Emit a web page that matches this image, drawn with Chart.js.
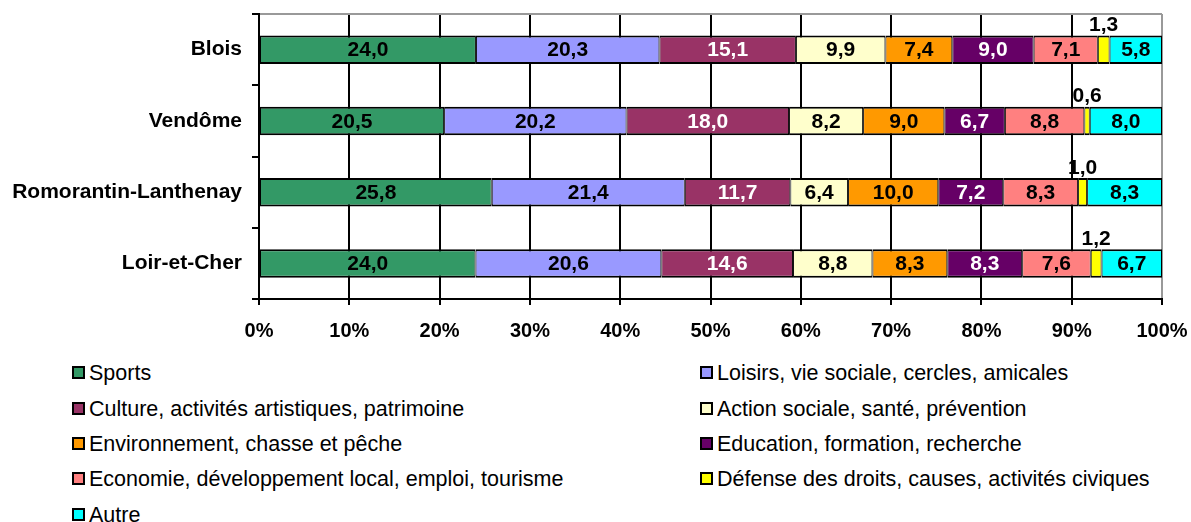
<!DOCTYPE html>
<html><head><meta charset="utf-8">
<script src="https://cdn.jsdelivr.net/npm/chart.js@4.4.0/dist/chart.umd.min.js"></script>
<style>
html,body{margin:0;padding:0;background:#fff;}
#wrap{position:relative;width:1191px;height:522px;overflow:hidden;background:#fff;}
#c{position:absolute;left:0;top:0;}
.lg{position:absolute;font-family:"Liberation Sans",Arial,sans-serif;font-size:21.5px;color:#000;white-space:nowrap;line-height:24px;height:24px;}
.lg i{position:absolute;left:0;top:5px;width:9px;height:9px;border:2px solid #000;}
.lg span{position:absolute;left:17px;top:0;}
</style></head>
<body>
<div id="wrap"><canvas id="c" width="1191" height="350"></canvas><div id="legend"></div></div>
<script>
// ---- data ----
const categories = ["Blois", "Vendôme", "Romorantin-Lanthenay", "Loir-et-Cher"];
const seriesNames = [
  "Sports",
  "Loisirs, vie sociale, cercles, amicales",
  "Culture, activités artistiques, patrimoine",
  "Action sociale, santé, prévention",
  "Environnement, chasse et pêche",
  "Education, formation, recherche",
  "Economie, développement local, emploi, tourisme",
  "Défense des droits, causes, activités civiques",
  "Autre"
];
const sports        = [24.0, 20.5, 25.8, 24.0];
const loisirs       = [20.3, 20.2, 21.4, 20.6];
const culture       = [15.1, 18.0, 11.7, 14.6];
const actionSociale = [9.9, 8.2, 6.4, 8.8];
const environnement = [7.4, 9.0, 10.0, 8.3];
const education     = [9.0, 6.7, 7.2, 8.3];
const economie      = [7.1, 8.8, 8.3, 7.6];
const defense       = [1.3, 0.6, 1.0, 1.2];
const autre         = [5.8, 8.0, 8.3, 6.7];
const xTickValues = [0, 10, 20, 30, 40, 50, 60, 70, 80, 90, 100];

const seriesValues = [sports, loisirs, culture, actionSociale, environnement, education, economie, defense, autre];
const colors = ["#339966", "#9999FF", "#993366", "#FFFFCC", "#FF9900", "#660066", "#FF8080", "#FFFF00", "#00FFFF"];
const whiteText = [2, 5];
const outsideIndex = 7;

// 100% stacked: share of each category total
const totals = categories.map((_, i) => seriesValues.reduce((s, arr) => s + arr[i], 0));

const FONT = '"Liberation Sans", Arial, sans-serif';

const datasets = seriesNames.map((name, di) => ({
  label: name,
  data: seriesValues[di].map((v, i) => v / totals[i] * 100),
  backgroundColor: colors[di],
  borderColor: "#000",
  borderWidth: {top: 2, bottom: 2, left: 1, right: 1},
  borderSkipped: false,
  categoryPercentage: 1,
  barPercentage: 0.4
}));

const labelPlugin = {
  id: 'barLabels',
  afterDatasetsDraw(chart) {
    const ctx = chart.ctx;
    ctx.save();
    ctx.font = 'bold 21px ' + FONT;
    ctx.textAlign = 'center';
    ctx.textBaseline = 'middle';
    chart.data.datasets.forEach((ds, di) => {
      const meta = chart.getDatasetMeta(di);
      meta.data.forEach((el, i) => {
        const txt = seriesValues[di][i].toFixed(1).replace('.', ',');
        const p = el.getProps(['x', 'y', 'base', 'height'], true);
        let x = (p.x + p.base) / 2, y = p.y + 1;
        if (di === outsideIndex) {
          y = p.y - p.height / 2 - 10;
          ctx.fillStyle = '#000';
        } else {
          ctx.fillStyle = whiteText.includes(di) ? '#fff' : '#000';
        }
        ctx.fillText(txt, x, y);
      });
    });
    ctx.restore();
  }
};

new Chart(document.getElementById('c'), {
  type: 'bar',
  data: { labels: categories, datasets },
  options: {
    indexAxis: 'y',
    responsive: false,
    animation: false,
    events: [],
    layout: { padding: { top: 14, right: 29, left: 0, bottom: 0 } },
    plugins: { legend: { display: false }, tooltip: { enabled: false } },
    scales: {
      x: {
        stacked: true,
        min: 0, max: 100,
        afterBuildTicks(scale) { scale.ticks = xTickValues.map(v => ({ value: v })); },
        afterFit(scale) { scale.height = 51; scale.paddingRight = 0; scale.paddingLeft = 0; },
        ticks: {
          callback: v => v + '%',
          color: '#000',
          font: { family: FONT, size: 20, weight: 'bold' },
          padding: 14,
          maxRotation: 0,
          autoSkip: false
        },
        grid: {
          color: ctx => (ctx.tick && ctx.tick.value === 100) ? '#999999' : '#000',
          tickColor: '#000',
          lineWidth: 2,
          tickLength: 6,
          drawTicks: true
        },
        border: { color: '#000', width: 2 }
      },
      y: {
        stacked: true,
        afterFit(scale) { scale.width = 259; scale.paddingTop = 0; scale.paddingBottom = 0; },
        ticks: {
          color: '#000',
          font: { family: FONT, size: 21, weight: 'bold' },
          padding: 10
        },
        grid: {
          offset: true,
          color: ctx => ctx.index === 0 ? '#999999' : 'rgba(0,0,0,0)',
          tickColor: '#000',
          lineWidth: 2,
          tickLength: 7,
          drawTicks: true
        },
        border: { color: '#000', width: 2 }
      }
    }
  },
  plugins: [labelPlugin]
});

// ---- legend (HTML, two columns) ----
const legendEl = document.getElementById('legend');
const rowY = [373, 408.5, 444, 479, 514.5];
seriesNames.forEach((name, di) => {
  const col = di % 2, row = Math.floor(di / 2);
  const d = document.createElement('div');
  d.className = 'lg';
  d.style.left = (col === 0 ? 72 : 700) + 'px';
  d.style.top = (rowY[row] - 12) + 'px';
  const box = document.createElement('i');
  box.style.background = colors[di];
  const sp = document.createElement('span');
  sp.textContent = name;
  d.appendChild(box); d.appendChild(sp);
  legendEl.appendChild(d);
});
</script>
</body></html>
